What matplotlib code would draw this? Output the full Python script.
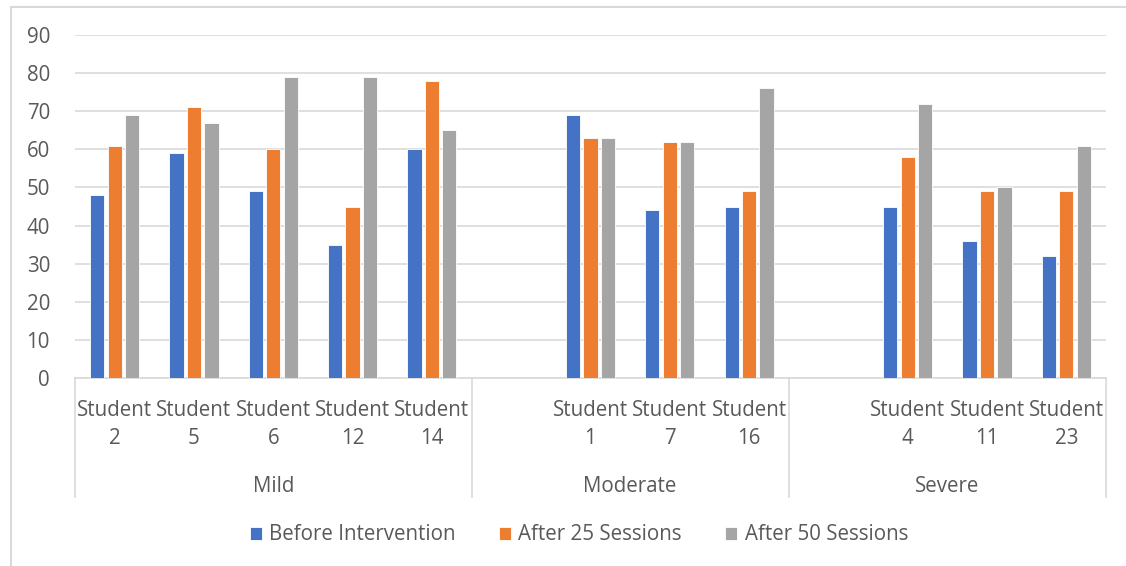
from matplotlib import pyplot as plt
from matplotlib.lines import Line2D
import matplotlib.transforms as mtransforms
import numpy as np

plt.rcParams['font.family'] = ['Open Sans', 'DejaVu Sans']

groups = ['Mild', 'Moderate', 'Severe']
students = [['2', '5', '6', '12', '14'], ['1', '7', '16'], ['4', '11', '23']]
before = [[48, 59, 49, 35, 60], [69, 44, 45], [45, 36, 32]]
after25 = [[61, 71, 60, 45, 78], [63, 62, 49], [58, 49, 49]]
after50 = [[69, 67, 79, 79, 65], [63, 62, 76], [72, 50, 61]]
series_names = ['Before Intervention', 'After 25 Sessions', 'After 50 Sessions']
colors = ['#4472C4', '#ED7D31', '#A5A5A5']
text_col = '#595959'
grid_col = '#D9D9D9'

# Excel leaves one empty category slot in front of each group after the first
slots = []
labels = []
vals = [[], [], []]
bounds = [-0.5]
pos = 0
for g in range(len(groups)):
    if g > 0:
        pos += 1
    for i, s in enumerate(students[g]):
        slots.append(pos)
        labels.append('Student\n' + s)
        vals[0].append(before[g][i])
        vals[1].append(after25[g][i])
        vals[2].append(after50[g][i])
        pos += 1
    bounds.append(pos - 0.5)
slots = np.array(slots)

fig = plt.figure(figsize=(11.26, 5.66), dpi=100)
ax = fig.add_axes([75 / 1126, 1 - 378 / 566, 1031 / 1126, 343 / 566])

fs = 14.8
width = 0.18
offsets = [-0.22, 0.0, 0.22]
for k in range(3):
    ax.bar(slots + offsets[k], vals[k], width, color=colors[k],
           edgecolor='white', linewidth=0.6, zorder=3, label=series_names[k])

ax.set_xlim(bounds[0], bounds[-1])
ax.set_ylim(0, 90)
ax.set_yticks(range(0, 91, 10))
ax.yaxis.grid(True, color=grid_col, linewidth=1.2, zorder=0)
ax.tick_params(axis='y', length=0, labelsize=fs, labelcolor=text_col, pad=18)
ax.set_xticks([])
for sp in ['top', 'right', 'left']:
    ax.spines[sp].set_visible(False)
ax.spines['bottom'].set_color(grid_col)
ax.spines['bottom'].set_linewidth(1.2)

trans = mtransforms.blended_transform_factory(ax.transData, ax.transAxes)
for x, lab in zip(slots, labels):
    ax.text(x, -0.064, lab, transform=trans, ha='center', va='top',
            fontsize=fs, color=text_col, linespacing=1.42)
for g in range(len(groups)):
    ax.text((bounds[g] + bounds[g + 1]) / 2, -0.315, groups[g], transform=trans,
            ha='center', va='center', fontsize=fs, color=text_col)
for b in bounds:
    ax.add_line(Line2D([b, b], [0, -0.347], transform=trans, color=grid_col,
                       linewidth=1.2, clip_on=False))

fig.legend(loc='center', bbox_to_anchor=(0.514, 1 - 535 / 566), ncol=3,
           frameon=False, fontsize=fs, labelcolor=text_col,
           handlelength=0.6, handleheight=0.6, handletextpad=0.35,
           columnspacing=2.1)

# chart area border
fig.add_artist(Line2D([11 / 1126, 1], [1 - 6.5 / 566] * 2, color=grid_col, linewidth=1.5))
fig.add_artist(Line2D([11 / 1126] * 2, [0, 1 - 6.5 / 566], color=grid_col, linewidth=1.5))

plt.savefig('out.png', dpi=100)
